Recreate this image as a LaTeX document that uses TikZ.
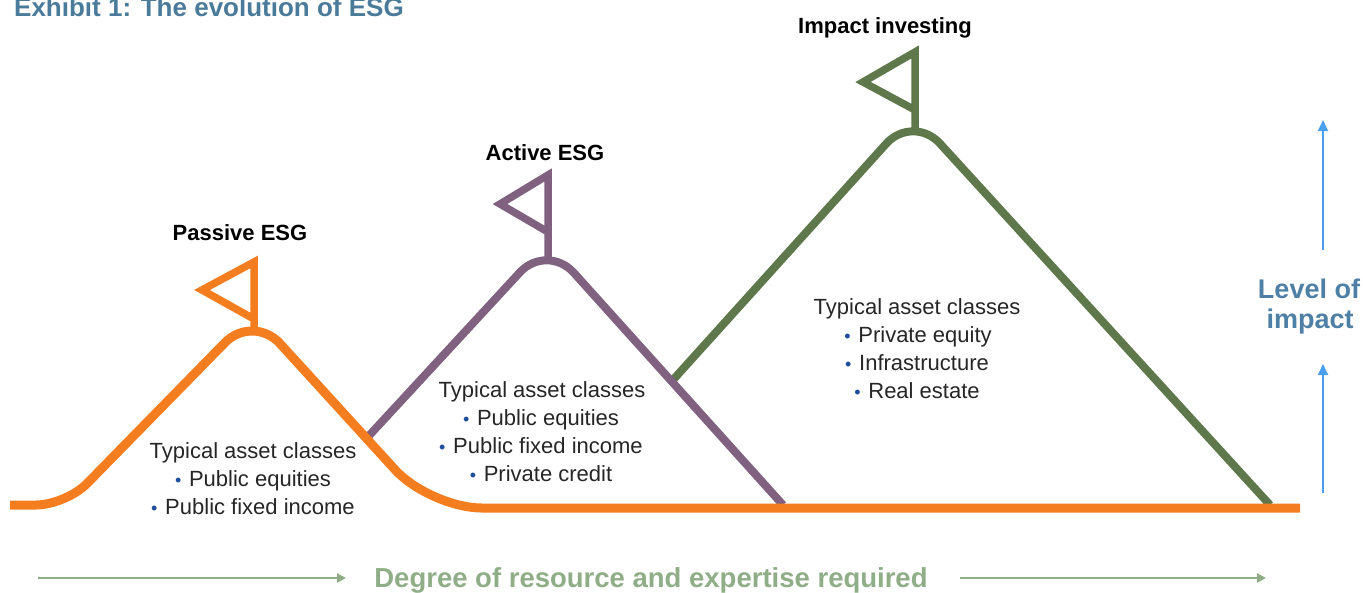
\documentclass[tikz,border=0pt]{standalone}
\usepackage{fontspec}
\setmainfont{Liberation Sans}
\usetikzlibrary{arrows.meta}
\definecolor{esgorange}{RGB}{244,125,32}
\definecolor{esgpurple}{RGB}{128,98,128}
\definecolor{esggreen}{RGB}{94,120,76}
\definecolor{arrowblue}{RGB}{74,160,240}
\definecolor{impactblue}{RGB}{78,128,165}
\definecolor{titleblue}{RGB}{74,123,155}
\definecolor{axisgreen}{RGB}{143,174,135}
\definecolor{bulletblue}{RGB}{31,78,154}
\newcommand{\bul}{{\color{bulletblue}\fontsize{18}{18}\selectfont\textbullet}\hspace{0.35em}}
\tikzset{
  mountain/.style={line width=#1, rounded corners=40pt, line cap=butt},
  flagline/.style={line width=7.5pt, line join=miter},
  peaklabel/.style={anchor=base, inner sep=0pt, font=\fontsize{22}{26}\selectfont\bfseries},
  bodytext/.style={anchor=base, inner sep=0pt, font=\fontsize{22}{26}\selectfont, text=black!85},
  impactlabel/.style={anchor=base, inner sep=0pt, text=impactblue, font=\fontsize{27}{30}\selectfont\bfseries},
  uparrow/.style={draw=arrowblue, line width=2pt, -{Triangle[length=11pt,width=10pt]}},
  rightarrow/.style={draw=axisgreen, line width=2.5pt, -{Triangle[length=9pt,width=9pt]}},
}
\begin{document}
\begin{tikzpicture}[x=1pt,y=-1pt]
\useasboundingbox (0,0) rectangle (1363,592);
\fill[white] (0,0) rectangle (1363,592);

% title (clipped at top, as in the reference)
\node[anchor=base west, inner sep=0pt, text=titleblue, font=\fontsize{26}{30}\selectfont\bfseries] (title) at (14,16) {Exhibit 1: The evolution of ESG};

% mountains: green, purple, orange (orange on top)
\draw[mountain=8pt, esggreen] (672,381) -- (913,114) -- (1270,505);
\draw[mountain=8pt, esgpurple] (365,440) -- (547,243) -- (783,505);
\draw[line width=9pt, esgorange] (10,505) [rounded corners=30pt] -- (66,505) [rounded corners=40pt] -- (253,314) [rounded corners=52pt] -- (430,508) [sharp corners] -- (1300,508);

% flags
\draw[flagline, esgorange] (254,332) -- (254,262) -- (202,290) -- (254,319);
\draw[flagline, esgpurple] (548,260) -- (548,175) -- (500,204) -- (548,232);
\draw[flagline, esggreen] (915,131) -- (915,52) -- (863,82) -- (915,110);

% peak labels
\node[peaklabel] (passive) at (240,240) {Passive ESG};
\node[peaklabel] (active) at (545,160) {Active ESG};
\node[peaklabel] (impact) at (885,33) {Impact investing};

% asset classes - passive
\node[bodytext] (p1) at (253,458) {Typical asset classes};
\node[bodytext] (p2) at (253,486) {\bul Public equities};
\node[bodytext] (p3) at (253,514) {\bul Public fixed income};
% active
\node[bodytext] (a1) at (542,397) {Typical asset classes};
\node[bodytext] (a2) at (541,425) {\bul Public equities};
\node[bodytext] (a3) at (541,453) {\bul Public fixed income};
\node[bodytext] (a4) at (541,481) {\bul Private credit};
% impact
\node[bodytext] (i1) at (917,314) {Typical asset classes};
\node[bodytext] (i2) at (918,342) {\bul Private equity};
\node[bodytext] (i3) at (917,370) {\bul Infrastructure};
\node[bodytext] (i4) at (917,398) {\bul Real estate};

% level of impact
\node[impactlabel] (lev1) at (1309,298) {Level of};
\node[impactlabel] (lev2) at (1310,328) {impact};
\coordinate (upA1) at (1323,250);
\coordinate (upA2) at (1323,120);
\coordinate (upB1) at (1323,493);
\coordinate (upB2) at (1323,364);
\draw[uparrow] (upA1) -- (upA2);
\draw[uparrow] (upB1) -- (upB2);

% bottom axis
\node[anchor=base, inner sep=0pt, text=axisgreen, font=\fontsize{27.5}{30}\selectfont\bfseries] (degree) at (651,587) {Degree of resource and expertise required};
\coordinate (axL1) at (38,578);
\coordinate (axL2) at (346,578);
\coordinate (axR1) at (960,578);
\coordinate (axR2) at (1266,578);
\draw[rightarrow] (axL1) -- (axL2);
\draw[rightarrow] (axR1) -- (axR2);
\end{tikzpicture}
\end{document}
